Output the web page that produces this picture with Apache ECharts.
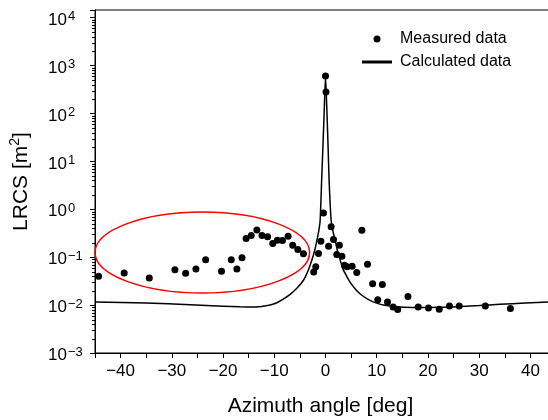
<!DOCTYPE html>
<html>
<head>
<meta charset="utf-8">
<script src="https://cdn.jsdelivr.net/npm/echarts@6/dist/echarts.min.js"></script>
<style>
  html, body { margin: 0; padding: 0; background: #fff; }
  #chart { width: 548px; height: 420px; }
</style>
</head>
<body>
<div id="chart"></div>
<script>
// measured points (azimuth deg, LRCS m^2)
const angleMeasured = [
  -44.3, -39.3, -34.4, -29.4, -27.3, -25.3, -23.4, -20.3, -18.4, -17.3,
  -16.3, -15.5, -14.5, -13.4, -12.4, -11.3, -10.3, -9.4, -8.4, -7.3,
  -6.4, -5.4, -4.3, -2.3, -1.9, -1.37, -0.9, -0.4, 0.0, 0.1,
  0.6, 1.1, 1.56, 2.2, 2.7, 3.2, 3.7, 4.2, 5.2, 6.1,
  7.1, 8.2, 9.2, 10.2, 11.1, 12.1, 13.2, 14.1, 16.1, 18.1,
  20.1, 22.2, 24.2, 26.1, 31.2, 36.1
];
const lrcsMeasured = [
  0.040, 0.047, 0.037, 0.055, 0.046, 0.057, 0.089, 0.051, 0.089, 0.057,
  0.097, 0.245, 0.285, 0.368, 0.285, 0.267, 0.194, 0.227, 0.224, 0.275,
  0.178, 0.145, 0.118, 0.049, 0.063, 0.119, 0.215, 0.84, 605, 283,
  0.17, 0.43, 0.234, 0.114, 0.178, 0.105, 0.068, 0.063, 0.065, 0.048,
  0.366, 0.071, 0.028, 0.013, 0.027, 0.0116, 0.0091, 0.0081, 0.0151, 0.0091,
  0.0087, 0.0082, 0.0096, 0.0096, 0.0096, 0.0085
];

// calculated curve
const angleCalc = [
  -45, -35, -26.4, -20, -16.7, -14.5, -12.5, -10.8, -9.5, -8.5,
  -6.9, -5.5, -4.3, -3.4, -2.66, -2.1, -1.68, -1.3, -1.04, -0.75,
  -0.5, -0.25, 0, 0.27, 0.5, 0.7, 1.1, 1.5, 1.9, 2.3,
  2.87, 3.4, 4.2, 5, 6.1, 7.3, 8.7, 10, 11.3, 14.6,
  18, 24.3, 30, 34, 39, 43.6, 45
];
const lrcsCalc = [
  0.0116, 0.011, 0.0102, 0.0095, 0.0092, 0.0091, 0.0094, 0.0101, 0.0112, 0.0128,
  0.0168, 0.023, 0.033, 0.052, 0.087, 0.14, 0.224, 0.36, 0.59, 4.1,
  21, 114, 600, 117, 21, 4.1, 0.59, 0.33, 0.224, 0.14,
  0.087, 0.057, 0.039, 0.028, 0.020, 0.0155, 0.0126, 0.011, 0.0100, 0.0091,
  0.0089, 0.0091, 0.0098, 0.0104, 0.011, 0.0116, 0.0118
];

const yDecades = [1e-3, 1e-2, 1e-1, 1e0, 1e1, 1e2, 1e3, 1e4];

// red ellipse drawn round the side-lobe points, as data-space bounds
const ellipseBox = { x0: -45, x1: -3.1, yTop: 0.88, yBottom: 0.0179 };

const yMinor = [];
for (let d = -3; d < 4; d++) {
  for (let k = 2; k <= 9; k++) {
    yMinor.push(k * Math.pow(10, d));
  }
}

const measuredData = angleMeasured.map((a, i) => [a, lrcsMeasured[i]]);
const calcData = angleCalc.map((a, i) => [a, lrcsCalc[i]]);

const FONT = '"Liberation Sans", Arial, sans-serif';
const minus = (n) => (n < 0 ? '\u2212' + (-n) : String(n));

const chart = echarts.init(document.getElementById('chart'));

const option = {
  animation: false,
  backgroundColor: '#fff',
  textStyle: { fontFamily: FONT },
  grid: {
    left: 95,
    right: -8,
    top: 10,
    bottom: 67,
    outerBoundsMode: 'none',
    containLabel: false,
    show: true,
    borderColor: '#000',
    borderWidth: 1
  },
  legend: {
    left: 362,
    top: 31,
    orient: 'vertical',
    padding: 0,
    itemWidth: 30,
    itemHeight: 7,
    itemGap: 7,
    symbolKeepAspect: true,
    textStyle: { fontFamily: FONT, fontSize: 16, color: '#000', lineHeight: 16, padding: [0, 0, 0, 3] },
    data: [
      { name: 'Measured data', icon: 'circle', itemStyle: { color: '#000', opacity: 1 } },
      { name: 'Calculated data', icon: 'path://M0,0L30,0L30,3L0,3Z', itemStyle: { color: '#000' } }
    ]
  },
  xAxis: {
    type: 'value',
    min: -45,
    max: 45,
    interval: 5,
    name: 'Azimuth angle [deg]',
    nameLocation: 'middle',
    nameGap: 43,
    nameTextStyle: { fontFamily: FONT, fontSize: 21, color: '#000', padding: [0, 10, 0, 0] },
    axisLine: { show: true, onZero: false, lineStyle: { color: '#000', width: 1 } },
    axisTick: { show: true, inside: false, length: 5, lineStyle: { color: '#000' } },
    axisLabel: {
      margin: 10,
      fontFamily: FONT,
      fontSize: 17,
      color: '#000',
      hideOverlap: false,
      formatter: (v) => (v % 10 === 0 && Math.abs(v) < 45 ? minus(v) : '')
    },
    splitLine: { show: false }
  },
  yAxis: {
    type: 'log',
    logBase: 10,
    min: 1e-3,
    max: 1.45e4,
    splitNumber: 8,
    name: '{t|LRCS [m}{s|2}{t|]}',
    nameLocation: 'middle',
    nameGap: 66,
    nameRotate: 90,
    nameTextStyle: {
      rich: {
        t: { fontFamily: FONT, fontSize: 21, color: '#000', lineHeight: 21, padding: [5, 0, 0, 0] },
        s: { fontFamily: FONT, fontSize: 14, color: '#000', lineHeight: 14, verticalAlign: 'top' }
      }
    },
    axisLine: { show: true, onZero: false, lineStyle: { color: '#000', width: 1 } },
    axisTick: { show: true, inside: false, length: 5, lineStyle: { color: '#000' } },
    axisLabel: {
      customValues: yDecades,
      margin: 47,
      align: 'left',
      formatter: (v) => {
        const e = Math.round(Math.log10(v));
        return '{b|10}{e|' + minus(e) + '}';
      },
      rich: {
        b: { fontFamily: FONT, fontSize: 17, color: '#000', lineHeight: 17, padding: [5, 0, 0, 0] },
        e: { fontFamily: FONT, fontSize: 13, color: '#000', lineHeight: 13, verticalAlign: 'top', padding: [1, 0, 0, 1] }
      }
    },
    splitLine: { show: false }
  },
  series: [
    {
      name: 'Calculated data',
      type: 'line',
      data: calcData,
      showSymbol: false,
      symbol: 'none',
      smooth: 0.2,
      lineStyle: { color: '#000', width: 1.5 },
      itemStyle: { color: '#000' },
      z: 2
    },
    {
      name: 'Measured data',
      type: 'scatter',
      data: measuredData,
      symbol: 'circle',
      symbolSize: 7,
      itemStyle: { color: '#000', opacity: 1 },
      z: 3
    }
  ]
};

chart.setOption(option);

// ellipse annotation from data-space bounds, plus log minor ticks on the y axis
const toPx = (x, y) => chart.convertToPixel({ xAxisIndex: 0, yAxisIndex: 0 }, [x, y]);
const pA = toPx(ellipseBox.x0, ellipseBox.yTop);
const pB = toPx(ellipseBox.x1, ellipseBox.yBottom);
const axisX = toPx(-45, 1)[0];
const graphics = [{
  type: 'ellipse',
  z: 10,
  shape: {
    cx: (pA[0] + pB[0]) / 2,
    cy: (pA[1] + pB[1]) / 2,
    rx: Math.abs(pB[0] - pA[0]) / 2,
    ry: Math.abs(pB[1] - pA[1]) / 2
  },
  style: { fill: 'none', stroke: '#ff0000', lineWidth: 1.5 }
}];
yMinor.forEach((v) => {
  const py = Math.round(toPx(-45, v)[1]) + 0.5;
  graphics.push({
    type: 'line',
    z: 5,
    shape: { x1: axisX - 3, y1: py, x2: axisX, y2: py },
    style: { stroke: '#000', lineWidth: 1 }
  });
});
chart.setOption({ graphic: graphics });
</script>
</body>
</html>
